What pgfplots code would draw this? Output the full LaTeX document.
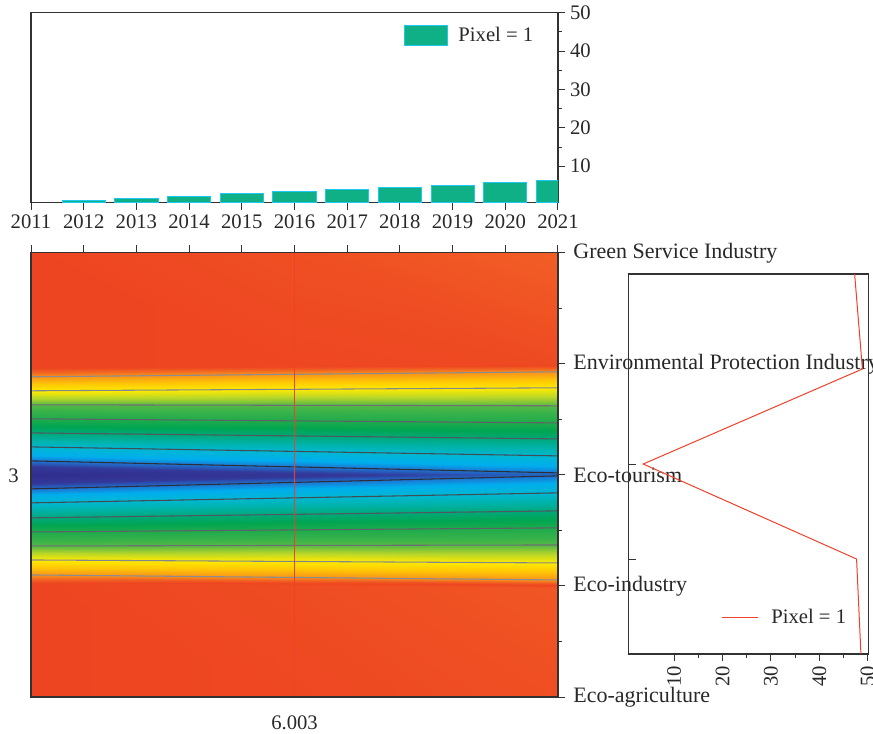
\documentclass[border=0pt]{standalone}
\usepackage{fontspec}
\setmainfont{Liberation Serif}
\usepackage{pgfplots}
\usepackage{pgfplotstable}
\pgfplotsset{compat=1.18}
\definecolor{barfill}{RGB}{16,176,135}
\definecolor{baredge}{RGB}{30,200,240}
\definecolor{axgray}{RGB}{50,50,50}
\definecolor{txt}{RGB}{40,40,40}
\definecolor{redline}{RGB}{240,65,40}

\pgfplotsset{
  common/.style={
    scale only axis,
    axis line style={axgray, line width=0.8pt},
    every tick/.style={axgray, line width=0.7pt},
    tick align=outside,
    major tick length=5.5pt,
    minor tick length=3pt,
    /pgf/number format/assume math mode=true,
    /pgf/number format/1000 sep={},
    font=\fontsize{15.5}{18}\selectfont,
    ticklabel style={font=\fontsize{15.5}{18}\selectfont, text=txt},
    legend cell align=left,
  }
}

% contour mesh: each row follows one contour line (x, y, level)
\pgfplotstableread{
x y v
2011 1.000 8.00
2016 1.000 8.10
2021 1.000 8.35
2011 2.027 8.00
2016 2.0045 8.25
2021 1.982 8.60
2011 2.099 7
2016 2.0765 7
2021 2.054 7
2011 2.234 6
2016 2.2205 6
2021 2.207 6
2011 2.360 5
2016 2.3645 5
2021 2.369 5
2011 2.486 4
2016 2.5045 4
2021 2.523 4
2011 2.613 3
2016 2.6445 3
2021 2.676 3
2011 2.748 2
2016 2.793 2
2021 2.838 2
2011 2.874 1
2016 2.9325 1
2021 2.991 1
2011 3.000 0
2016 3.002 0.46
2021 3.0045 0.92
2011 3.126 1
2016 3.072 1
2021 3.018 1
2011 3.252 2
2016 3.2115 2
2021 3.171 2
2011 3.378 3
2016 3.351 3
2021 3.324 3
2011 3.505 4
2016 3.4865 4
2021 3.468 4
2011 3.631 5
2016 3.6265 5
2021 3.622 5
2011 3.757 6
2016 3.7705 6
2021 3.784 6
2011 3.883 7
2016 3.9055 7
2021 3.928 7
2011 3.964 8.00
2016 3.982 8.05
2021 4.000 8.20
2011 5.000 8.00
2016 5.000 8.35
2021 5.000 8.90
}\meshdata

\begin{document}
\begin{tikzpicture}
\useasboundingbox (0,0) rectangle (654.75pt,-549.75pt);

% ---------------- top bar chart ----------------
\begin{axis}[common,
  at={(23.25pt,-152pt)}, anchor=south west,
  width=395.25pt, height=142.5pt,
  xmin=2011, xmax=2021, ymin=0.5, ymax=50,
  xtick={2011,2012,...,2021}, minor x tick num=1, xtick pos=left,
  ytick={10,20,...,50}, minor y tick num=1, ytick pos=right, yticklabel pos=right,
  legend style={draw=none, fill=none, at={(0.70,0.88)}, anchor=west,
    font=\fontsize{15.5}{18}\selectfont, text=txt},
  legend image code/.code={\draw[#1] (0pt,-7.5pt) rectangle (32pt,7.5pt); \path (38pt,0pt);},
]
\addplot[ybar, bar width=0.82, bar shift=0pt, fill=barfill, draw=baredge, line width=0.7pt]
  coordinates {(2012,1.0) (2013,1.6) (2014,2.2) (2015,2.8) (2016,3.35)
               (2017,3.95) (2018,4.55) (2019,5.1) (2020,5.7) (2021,6.3)};
\addlegendentry{Pixel = 1}
\end{axis}

% ---------------- contour panel ----------------
\begin{axis}[common,
  at={(23.25pt,-522.75pt)}, anchor=south west,
  width=395.25pt, height=333.2pt,
  xmin=2011, xmax=2021, ymin=1, ymax=5,
  xtick={2011,2012,...,2021}, minor x tick num=1, xtick pos=right, xticklabels={},
  ytick={1,2,3,4,5}, minor y tick num=1, ytick pos=right, yticklabel pos=right,
  yticklabels={Eco-agriculture, Eco-industry, Eco-tourism, Environmental Protection Industry, Green Service Industry},
  yticklabel style={font=\fontsize{16.5}{19}\selectfont, xshift=2.5pt},
  point meta min=0, point meta max=9,
  colormap={cmap}{
    rgb(0pt)=(0.19,0.18,0.55);
    rgb(6pt)=(0.20,0.22,0.60);
    rgb(10pt)=(0.12,0.45,0.82);
    rgb(14pt)=(0.00,0.68,0.93);
    rgb(20pt)=(0.00,0.72,0.82);
    rgb(25pt)=(0.00,0.70,0.66);
    rgb(30pt)=(0.00,0.66,0.48);
    rgb(35pt)=(0.00,0.65,0.32);
    rgb(40pt)=(0.12,0.67,0.30);
    rgb(46pt)=(0.22,0.70,0.29);
    rgb(50pt)=(0.33,0.72,0.27);
    rgb(55pt)=(0.72,0.84,0.16);
    rgb(60pt)=(1.00,0.92,0.00);
    rgb(65pt)=(1.00,0.78,0.02);
    rgb(70pt)=(0.97,0.58,0.10);
    rgb(75pt)=(0.95,0.40,0.13);
    rgb(80pt)=(0.93,0.27,0.13);
    rgb(90pt)=(0.95,0.38,0.15)
  },
  axis on top,
]
\addplot[surf, shader=interp, mesh/cols=3, point meta=explicit]
  table[x=x, y=y, meta=v]{\meshdata};
% contour lines
\addplot[no marks, color={rgb,1:red,0.55;green,0.55;blue,0.57}, line width=0.8pt] coordinates {(2011,2.099) (2021,2.054)};
\addplot[no marks, color={rgb,1:red,0.55;green,0.55;blue,0.57}, line width=0.8pt] coordinates {(2011,3.883) (2021,3.928)};
\addplot[no marks, color={rgb,1:red,0.52;green,0.53;blue,0.55}, line width=0.8pt] coordinates {(2011,2.234) (2021,2.207)};
\addplot[no marks, color={rgb,1:red,0.52;green,0.53;blue,0.55}, line width=0.8pt] coordinates {(2011,3.757) (2021,3.784)};
\addplot[no marks, color={rgb,1:red,0.42;green,0.44;blue,0.45}, line width=0.8pt] coordinates {(2011,2.360) (2021,2.369)};
\addplot[no marks, color={rgb,1:red,0.42;green,0.44;blue,0.45}, line width=0.8pt] coordinates {(2011,3.631) (2021,3.622)};
\addplot[no marks, color={rgb,1:red,0.36;green,0.39;blue,0.40}, line width=0.8pt] coordinates {(2011,2.486) (2021,2.523)};
\addplot[no marks, color={rgb,1:red,0.36;green,0.39;blue,0.40}, line width=0.8pt] coordinates {(2011,3.505) (2021,3.468)};
\addplot[no marks, color={rgb,1:red,0.31;green,0.35;blue,0.37}, line width=0.8pt] coordinates {(2011,2.613) (2021,2.676)};
\addplot[no marks, color={rgb,1:red,0.31;green,0.35;blue,0.37}, line width=0.8pt] coordinates {(2011,3.378) (2021,3.324)};
\addplot[no marks, color={rgb,1:red,0.26;green,0.30;blue,0.33}, line width=0.8pt] coordinates {(2011,2.748) (2021,2.838)};
\addplot[no marks, color={rgb,1:red,0.26;green,0.30;blue,0.33}, line width=0.8pt] coordinates {(2011,3.252) (2021,3.171)};
\addplot[no marks, color={rgb,1:red,0.18;green,0.18;blue,0.22}, line width=0.8pt] coordinates {(2011,2.874) (2021,2.991)};
\addplot[no marks, color={rgb,1:red,0.18;green,0.18;blue,0.22}, line width=0.8pt] coordinates {(2011,3.126) (2021,3.018)};
% vertical marker
\addplot[no marks, color=redline, line width=1.1pt] coordinates {(2016,1) (2016,5)};
\coordinate (lab3) at (rel axis cs:0,0.5);
\coordinate (labx) at (axis cs:2016,1);
\end{axis}
\node[anchor=east, text=txt, font=\fontsize{15.5}{18}\selectfont, inner sep=0pt] at ([xshift=-9pt,yshift=-1pt]lab3) {3};
\node[anchor=north, text=txt, font=\fontsize{15.5}{18}\selectfont, inner sep=0pt] at ([yshift=-14pt]labx) {6.003};

% ---------------- right profile ----------------
\begin{axis}[common,
  at={(471.5pt,-490.5pt)}, anchor=south west,
  width=180pt, height=285pt,
  xmin=0.6, xmax=50.2, ymin=1, ymax=5,
  xtick={10,20,...,50}, minor x tick num=1, xtick pos=left,
  xticklabel style={rotate=90, anchor=east},
  ytick={2,3}, yticklabels={}, ytick pos=left, ytick align=inside,
  legend style={draw=none, fill=none, at={(0.935,0.097)}, anchor=east,
    font=\fontsize{15.5}{18}\selectfont, text=txt},
  legend image code/.code={\draw[#1] (0pt,0pt) -- (27pt,0pt); \path (35pt,0pt);},
]
\addplot[no marks, color=redline, line width=0.75pt]
  coordinates {(47.3,5) (48.9,4) (3.6,3) (47.7,2) (48.6,1)};
\addlegendentry{Pixel = 1}
\end{axis}
\end{tikzpicture}
\end{document}
